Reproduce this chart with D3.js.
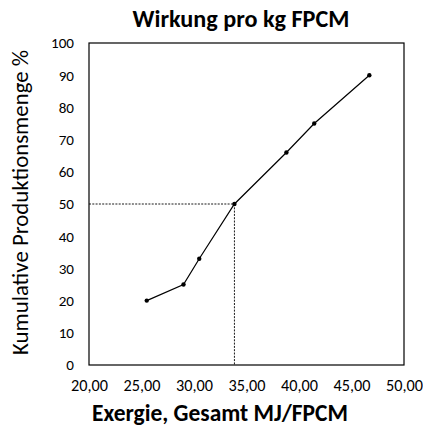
<!DOCTYPE html>
<html><head><meta charset="utf-8">
<script src="https://cdn.jsdelivr.net/npm/d3@7"></script>
<style>body{margin:0;background:#fff}svg{display:block}text{font-family:Carlito,Lato,"Open Sans",sans-serif}</style>
</head><body>
<script>
const xValues = [25.5, 29.0, 30.5, 33.85, 38.8, 41.45, 46.7];
const yValues = [20, 25, 33, 50, 66, 75, 90];
const xTicks = [20, 25, 30, 35, 40, 45, 50];
const yTicks = [0, 10, 20, 30, 40, 50, 60, 70, 80, 90, 100];
const refX = 33.85, refY = 50;
const title = "Wirkung pro kg FPCM";
const xTitle = "Exergie, Gesamt MJ/FPCM";
const yTitle = "Kumulative Produktionsmenge %";

const W = 423, H = 430;
const m = {l: 89, r: 19, t: 43, b: 65};
const svg = d3.select("body").append("svg").attr("width", W).attr("height", H);
const x = d3.scaleLinear().domain([20, 50]).range([m.l, W - m.r]);
const y = d3.scaleLinear().domain([0, 100]).range([H - m.b, m.t]);

function fit(sel, target) {
  sel.attr("font-size", 20);
  const len = sel.node().getComputedTextLength();
  sel.attr("font-size", 20 * target / len);
  return sel;
}
function fitSize(str, target, weight) {
  const t = svg.append("text").attr("font-size", 20).attr("font-weight", weight || "normal").text(str);
  const len = t.node().getComputedTextLength();
  t.remove();
  return 20 * target / len;
}

fit(svg.append("text").attr("x", 241).attr("y", 27).attr("text-anchor", "middle")
  .attr("font-weight", "bold").text(title), 217);

const xtSize = fitSize("25,00", 37);
const xAxis = d3.axisBottom(x).tickValues(xTicks).tickSize(0).tickPadding(0)
  .tickFormat(d => d3.format(".2f")(d).replace(".", ","));
svg.append("g").attr("transform", `translate(0,${H - m.b})`).call(xAxis)
  .call(g => g.select(".domain").remove())
  .selectAll("text").attr("font-size", xtSize).attr("fill", "#000").attr("dy", null).attr("y", 26)
  .style("font-family", "Carlito,Lato,'Open Sans',sans-serif");

const ytSize = fitSize("100", 23);
const yAxis = d3.axisLeft(y).tickValues(yTicks).tickSize(0).tickPadding(15);
svg.append("g").attr("transform", `translate(${m.l},0)`).call(yAxis)
  .call(g => g.select(".domain").remove())
  .selectAll("text").attr("font-size", ytSize).attr("fill", "#000")
  .style("font-family", "Carlito,Lato,'Open Sans',sans-serif");

svg.append("rect").attr("x", m.l).attr("y", m.t).attr("width", W - m.l - m.r).attr("height", H - m.t - m.b)
  .attr("fill", "none").attr("stroke", "#000").attr("stroke-width", 1.2);

// reference dashed lines
svg.append("line").attr("x1", x(20)).attr("x2", x(refX)).attr("y1", y(refY)).attr("y2", y(refY))
  .attr("stroke", "#000").attr("stroke-width", 0.9).attr("stroke-dasharray", "2,1.3");
svg.append("line").attr("x1", x(refX)).attr("x2", x(refX)).attr("y1", y(refY)).attr("y2", y(0))
  .attr("stroke", "#000").attr("stroke-width", 0.9).attr("stroke-dasharray", "2,1.3");

const pts = xValues.map((v, i) => [v, yValues[i]]);
svg.append("path").datum(pts).attr("fill", "none").attr("stroke", "#000").attr("stroke-width", 1.2)
  .attr("d", d3.line().x(d => x(d[0])).y(d => y(d[1])));
svg.selectAll("circle.pt").data(pts).join("circle").attr("class", "pt")
  .attr("cx", d => x(d[0])).attr("cy", d => y(d[1])).attr("r", 2.2).attr("fill", "#000");

fit(svg.append("text").attr("x", 220).attr("y", 421).attr("text-anchor", "middle")
  .attr("font-weight", "bold").text(xTitle), 256);
fit(svg.append("text").attr("transform", `translate(28,202.5) rotate(-90)`).attr("text-anchor", "middle")
  .text(yTitle), 305);
</script>
</body></html>
